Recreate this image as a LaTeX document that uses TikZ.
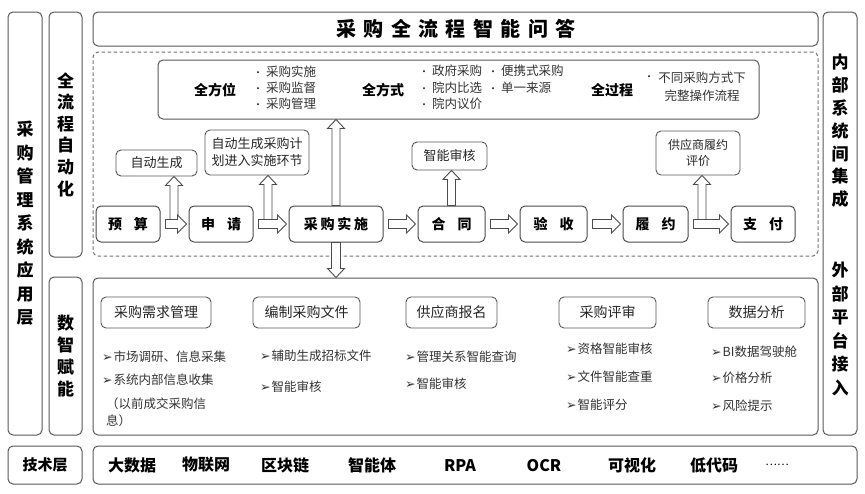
\documentclass[tikz,border=0pt]{standalone}
\usepackage{fontspec}
\setmainfont{Noto Sans CJK SC}
\newfontfamily\symfont{DejaVu Sans}
\usetikzlibrary{positioning,calc}

\newcommand{\mk}{{\symfont\fontsize{12.5}{12}\selectfont ➢}\hspace{1pt}}
\newcommand{\dotmk}{{\fontsize{10}{10}\selectfont •}\hspace{3pt}}

% 空心箭头
\newcommand{\blockright}[2]{%
  \draw[blockarrow] let \p1=(#1.east), \p2=(#2.west) in
    (\x1+5pt,\y1+4.5pt) -- (\x2-11pt,\y1+4.5pt) -- (\x2-11pt,\y1+9pt) -- (\x2-2pt,\y1)
    -- (\x2-11pt,\y1-9pt) -- (\x2-11pt,\y1-4.5pt) -- (\x1+5pt,\y1-4.5pt) -- cycle;}
\newcommand{\blockup}[2]{%
  \draw[blockarrow] let \p1=(#1), \p2=(#2.south) in
    (\x1-4pt,\y1) -- (\x1-4pt,\y2-9pt) -- (\x1-8.5pt,\y2-9pt) -- (\x1,\y2)
    -- (\x1+8.5pt,\y2-9pt) -- (\x1+4pt,\y2-9pt) -- (\x1+4pt,\y1) -- cycle;}
\newcommand{\blockdown}[2]{%
  \draw[blockarrow] let \p1=(#1), \p2=(#2.north) in
    (\x1-4.5pt,\y1) -- (\x1-4.5pt,\y2+9pt) -- (\x1-8.5pt,\y2+9pt) -- (\x1,\y2)
    -- (\x1+8.5pt,\y2+9pt) -- (\x1+4.5pt,\y2+9pt) -- (\x1+4.5pt,\y1) -- cycle;}

\tikzset{
  panel/.style={draw=black!65, line width=1pt, rounded corners=5pt},
  vtext/.style={align=center, font=\bfseries\fontsize{17}{23.5}\selectfont},
  stagebox/.style={draw=black!70, line width=1pt, rounded corners=5pt, minimum height=36pt,
    font=\bfseries\fontsize{14}{16}\selectfont},
  notebox/.style={draw=black!65, line width=0.9pt, rounded corners=5pt, align=center,
    font=\fontsize{13}{17}\selectfont, text=black!85},
  headbox/.style={draw=black!65, line width=0.9pt, rounded corners=5pt, minimum height=31pt,
    font=\fontsize{14}{16}\selectfont, text=black!85},
  itemtext/.style={anchor=west, inner sep=0pt, font=\fontsize{12.5}{15}\selectfont, text=black!80},
  techtext/.style={font=\bfseries\fontsize{16}{18}\selectfont},
  blockarrow/.style={draw=black!70, fill=white, line width=0.9pt},
}

\begin{document}
\begin{tikzpicture}[x=1pt,y=-1pt]
  \fill[white] (0,0) rectangle (865,493);
  \useasboundingbox (0,0) rectangle (865,493);

  % 左右两侧的竖条
  \node[panel, vtext, minimum width=34pt, minimum height=423pt] (app) at (25,223.5)
    {采\\购\\管\\理\\系\\统\\应\\用\\层};
  \node[panel, vtext, font=\bfseries\fontsize{17}{21.6}\selectfont, minimum width=33pt, minimum height=245pt] (autoside) at (65.5,134.5)
    {全\\流\\程\\自\\动\\化};
  \node[panel, vtext, font=\bfseries\fontsize{17}{21.7}\selectfont, minimum width=33pt, minimum height=158pt] (smartside) at (65.5,356)
    {数\\智\\赋\\能};
  \node[panel, minimum width=34pt, minimum height=423pt] (link) at (840,223.5) {};
  \node[vtext, font=\bfseries\fontsize{17}{22.8}\selectfont] (inner) at (840,131) {内\\部\\系\\统\\间\\集\\成};
  \node[vtext, font=\bfseries\fontsize{17}{23.6}\selectfont] (outer) at (840,329) {外\\部\\平\\台\\接\\入};

  % 标题
  \node[panel, minimum width=725pt, minimum height=34pt] (titlebox) at (455.5,29) {};
  \node[font=\bfseries\fontsize{20}{22}\selectfont\addfontfeature{LetterSpace=37}] (title) at (456,29)
    {采购全流程智能问答};

  % 全流程自动化区域
  \node[panel, dash pattern=on 3.5pt off 2.5pt, draw=black!55, minimum width=725pt, minimum height=204pt] (autoarea) at (455.5,154) {};
  \node[panel, minimum width=601pt, minimum height=59pt] (scope) at (458.5,89.5) {};
  \node[font=\bfseries\fontsize{14}{16}\selectfont] (pos) at (215,90) {全方位};
  \node[itemtext] (pos1) at (253,72) {\dotmk 采购实施};
  \node[itemtext] (pos2) at (253,88) {\dotmk 采购监督};
  \node[itemtext] (pos3) at (253,104) {\dotmk 采购管理};
  \node[font=\bfseries\fontsize{14}{16}\selectfont] (way) at (383,90) {全方式};
  \node[itemtext] (way1) at (419,71) {\dotmk 政府采购};
  \node[itemtext] (way2) at (419,88) {\dotmk 院内比选};
  \node[itemtext] (way3) at (419,104) {\dotmk 院内议价};
  \node[itemtext] (way4) at (488,71) {\dotmk 便携式采购};
  \node[itemtext] (way5) at (488,88) {\dotmk 单一来源};
  \node[font=\bfseries\fontsize{14}{16}\selectfont] (proc) at (612,90) {全过程};
  \node[itemtext] (procdot) at (644,78) {\fontsize{10}{10}\selectfont •};
  \node[align=center, inner sep=0pt, font=\fontsize{12.5}{18}\selectfont, text=black!80] (proc1) at (702,87)
    {不同采购方式下\\完整操作流程};

  % 流程
  \node[stagebox, minimum width=64pt] (budget) at (128,224) {预\hspace{12pt}算};
  \node[stagebox, minimum width=64pt, right=28pt of budget] (apply) {申\hspace{12pt}请};
  \node[stagebox, minimum width=94pt, right=35pt of apply] (exec)
    {\addfontfeature{LetterSpace=20}采购实施};
  \node[stagebox, minimum width=67pt, right=34pt of exec] (contract) {合\hspace{12pt}同};
  \node[stagebox, minimum width=67pt, right=34pt of contract] (accept) {验\hspace{12pt}收};
  \node[stagebox, minimum width=65pt, right=35pt of accept] (perform) {履\hspace{12pt}约};
  \node[stagebox, minimum width=64pt, right=42pt of perform] (pay) {支\hspace{12pt}付};

  \node[notebox, minimum width=81pt, minimum height=26pt] (autogen) at (156.5,163) {自动生成};
  \node[notebox, minimum width=104pt, minimum height=45pt] (plan) at (257,152.5)
    {自动生成采购计\\划进入实施环节};
  \node[notebox, minimum width=75pt, minimum height=28pt] (audit) at (449.5,156) {智能审核};
  \node[notebox, font=\fontsize{12}{16}\selectfont, minimum width=84pt, minimum height=44pt] (rate) at (698,153)
    {供应商履约\\评价};

  \coordinate (foot1) at (174,219.5);
  \coordinate (foot2) at (268,219.5);
  \coordinate (foot3) at (702,219.5);
  \blockup{foot1}{autogen}
  \blockup{foot2}{plan}
  \blockup{foot3}{rate}
  \blockup{exec.north}{scope}
  \blockup{contract.north}{audit}

  \blockright{budget}{apply}
  \blockright{apply}{exec}
  \blockright{exec}{contract}
  \blockright{contract}{accept}
  \blockright{accept}{perform}
  \blockright{perform}{pay}

  % 数智赋能区域
  \node[panel, minimum width=725pt, minimum height=157pt] (smartarea) at (455.5,356.5) {};
  \blockdown{exec.south}{smartarea}

  \node[headbox, minimum width=110pt] (need) at (156,312.5) {采购需求管理};
  \node[headbox, minimum width=107pt] (doc) at (306.5,312.5) {编制采购文件};
  \node[headbox, minimum width=91pt] (sign) at (451.5,312.5) {供应商报名};
  \node[headbox, minimum width=97pt] (review) at (607.5,312.5) {采购评审};
  \node[headbox, minimum width=97pt] (data) at (756.5,312.5) {数据分析};

  \node[itemtext] (need1) at (102,357) {\mk 市场调研、信息采集};
  \node[itemtext] (need2) at (102,380) {\mk 系统内部信息收集};
  \node[itemtext] (need3) at (106,404) {（以前成交采购信};
  \node[itemtext] (need4) at (106,421) {息）};
  \node[itemtext] (doc1) at (260,356) {\mk 辅助生成招标文件};
  \node[itemtext] (doc2) at (260,387) {\mk 智能审核};
  \node[itemtext] (sign1) at (405,357) {\mk 管理关系智能查询};
  \node[itemtext] (sign2) at (405,384) {\mk 智能审核};
  \node[itemtext] (review1) at (566,349) {\mk 资格智能审核};
  \node[itemtext] (review2) at (566,377) {\mk 文件智能查重};
  \node[itemtext] (review3) at (566,405) {\mk 智能评分};
  \node[itemtext] (data1) at (711,352) {\mk BI数据驾驶舱};
  \node[itemtext] (data2) at (711,378) {\mk 价格分析};
  \node[itemtext] (data3) at (711,406) {\mk 风险提示};

  % 技术层
  \node[panel, minimum width=74pt, minimum height=38pt, font=\bfseries\fontsize{15}{17}\selectfont] (techside) at (45,465) {技术层};
  \node[panel, minimum width=764pt, minimum height=38pt] (tech) at (475,465) {};
  \node[techtext] (t1) at (132,465) {大数据};
  \node[techtext] (t2) at (206,465) {物联网};
  \node[techtext] (t3) at (285,465) {区块链};
  \node[techtext] (t4) at (372,465) {智能体};
  \node[techtext] (t5) at (460,466) {RPA};
  \node[techtext] (t6) at (544,466) {OCR};
  \node[techtext] (t7) at (632,465) {可视化};
  \node[techtext] (t8) at (714,465) {低代码};
  \node[font=\fontsize{11}{12}\selectfont] (t9) at (777,465) {……};
\end{tikzpicture}
\end{document}
